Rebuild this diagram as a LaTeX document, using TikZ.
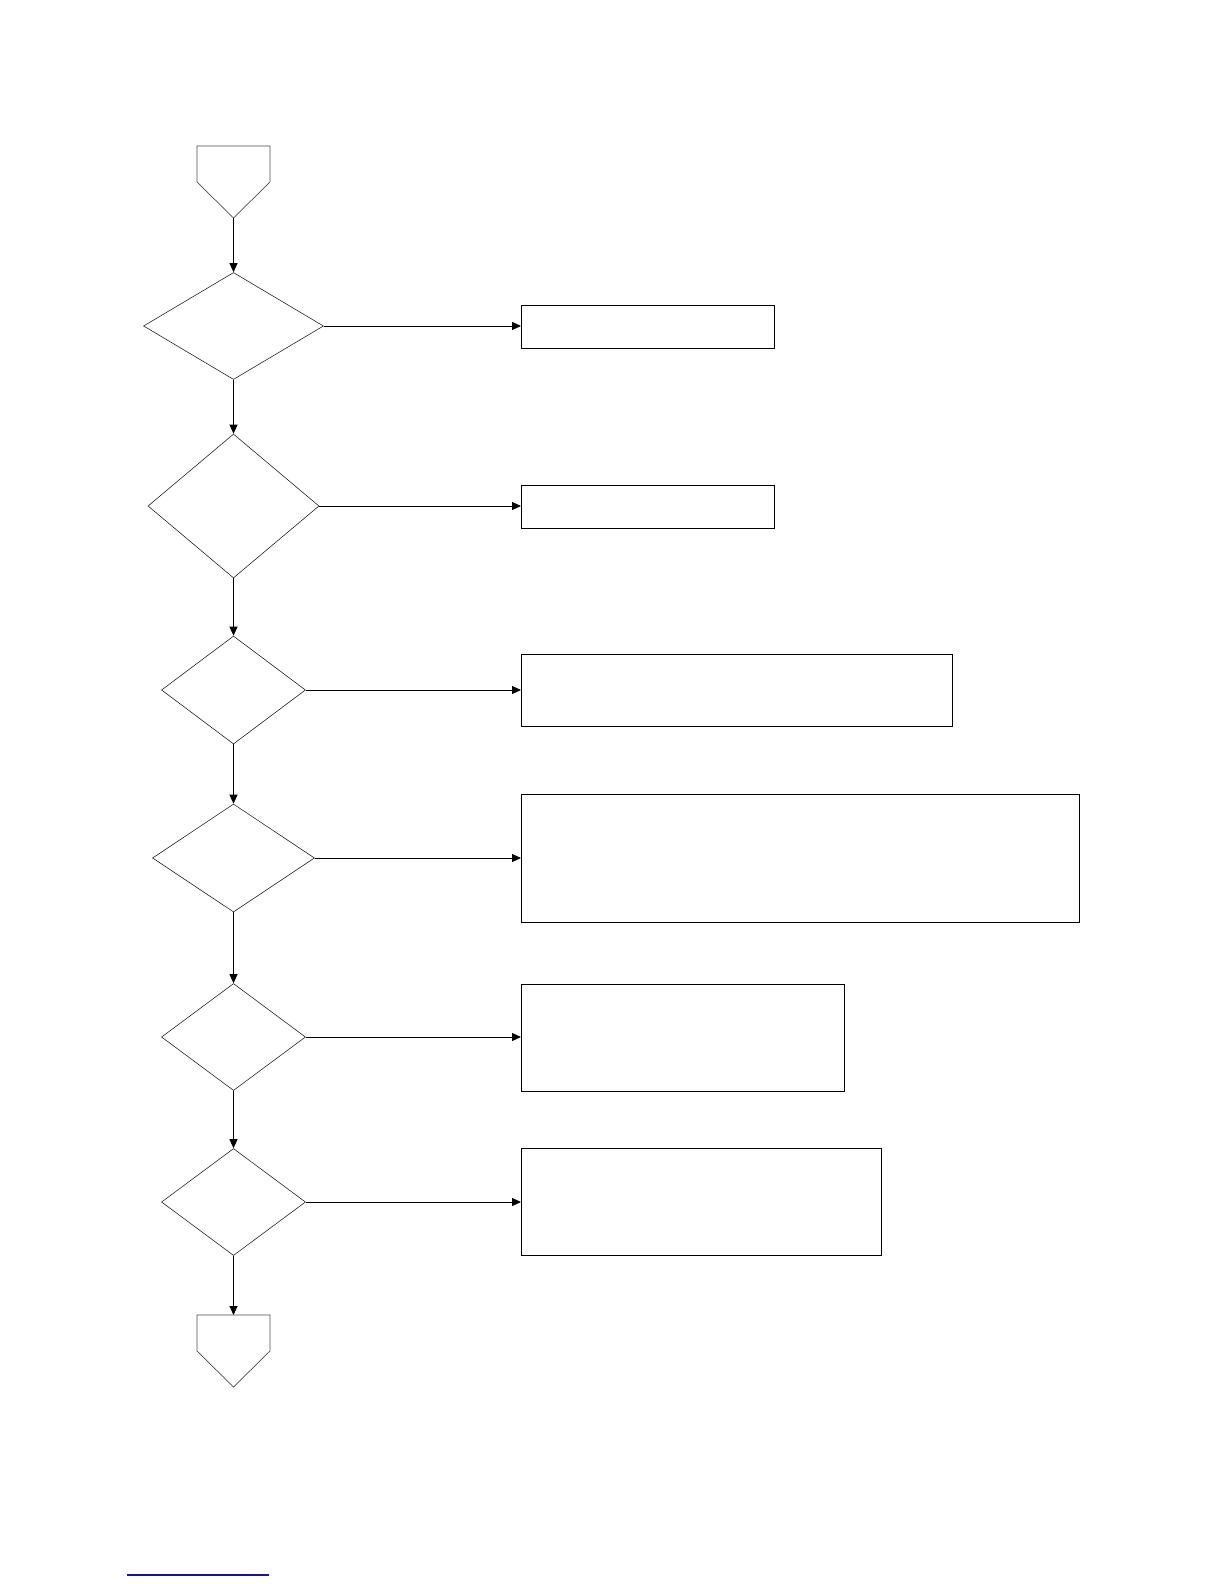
\documentclass[tikz,border=0pt]{standalone}
\usetikzlibrary{shapes.geometric,arrows.meta}
\begin{document}
\begin{tikzpicture}[x=1pt,y=-1pt,
  dec/.style={draw=black!85,line width=0.6pt,shape=diamond,inner sep=0pt,aspect=1},
  actbox/.style={draw=black,line width=0.9pt,rectangle,inner sep=0pt,anchor=north west},
  flow/.style={draw=black,line width=0.9pt,-{Triangle[length=9pt,width=8pt]}},
  offpage/.style={draw=black!70,line width=0.7pt}]
\useasboundingbox (0,0) rectangle (1224,1584);
% off-page connectors
\draw[offpage] (197,146) -- (270,146) -- (270,182) -- (233.5,218) -- (197,182) -- cycle;
\coordinate (top) at (233.5,218);
\draw[offpage] (197,1315) -- (270,1315) -- (270,1351) -- (233.5,1387) -- (197,1351) -- cycle;
\coordinate (bot) at (233.5,1315);
% decisions
\node[dec,minimum width=180pt,minimum height=107pt] (d1) at (233.5,326) {};
\node[dec,minimum width=171pt,minimum height=144pt] (d2) at (233.5,506) {};
\node[dec,minimum width=144pt,minimum height=108pt] (d3) at (233.5,690) {};
\node[dec,minimum width=162pt,minimum height=108pt] (d4) at (233.5,858) {};
\node[dec,minimum width=144pt,minimum height=107pt] (d5) at (233.5,1037) {};
\node[dec,minimum width=144pt,minimum height=107pt] (d6) at (233.5,1202) {};
% action boxes
\node[actbox,minimum width=253pt,minimum height=43pt] (b1) at (521,305) {};
\node[actbox,minimum width=253pt,minimum height=43pt] (b2) at (521,485) {};
\node[actbox,minimum width=431pt,minimum height=72pt] (b3) at (521,654) {};
\node[actbox,minimum width=558pt,minimum height=128pt] (b4) at (521,794) {};
\node[actbox,minimum width=323pt,minimum height=107pt] (b5) at (521,984) {};
\node[actbox,minimum width=360pt,minimum height=107pt] (b6) at (521,1148) {};
% vertical flow
\draw[flow] (top) -- (d1.north);
\draw[flow] (d1.south) -- (d2.north);
\draw[flow] (d2.south) -- (d3.north);
\draw[flow] (d3.south) -- (d4.north);
\draw[flow] (d4.south) -- (d5.north);
\draw[flow] (d5.south) -- (d6.north);
\draw[flow] (d6.south) -- (bot);
% horizontal flow
\draw[flow] (d1.east) -- (d1.east -| b1.west);
\draw[flow] (d2.east) -- (d2.east -| b2.west);
\draw[flow] (d3.east) -- (d3.east -| b3.west);
\draw[flow] (d4.east) -- (d4.east -| b4.west);
\draw[flow] (d5.east) -- (d5.east -| b5.west);
\draw[flow] (d6.east) -- (d6.east -| b6.west);
% footer rule
\coordinate (fa) at (127,1575);
\coordinate (fb) at (269,1575);
\draw[draw={rgb,255:red,20;green,20;blue,160},line width=1.2pt] (fa) -- (fb);
\end{tikzpicture}
\end{document}
